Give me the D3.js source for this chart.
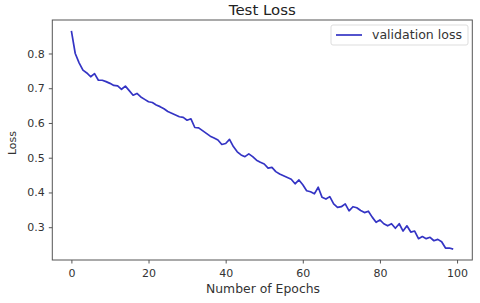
<!DOCTYPE html>
<html><head><meta charset="utf-8">
<script src="https://cdn.jsdelivr.net/npm/d3@7"></script>
<style>body{margin:0;background:#fff}svg{display:block;font-family:"DejaVu Sans",sans-serif}</style>
</head><body><svg id="c" width="480" height="303"></svg>
<script>
const epochs = d3.range(0, 100);
const lossValues = [
0.865,0.800,0.773,0.752,0.744,0.733,0.742,0.723,0.723,0.719,
0.714,0.708,0.707,0.697,0.706,0.693,0.680,0.685,0.675,0.668,
0.661,0.659,0.652,0.647,0.641,0.633,0.628,0.623,0.618,0.616,
0.608,0.612,0.587,0.586,0.578,0.570,0.562,0.557,0.551,0.538,
0.541,0.553,0.532,0.517,0.508,0.503,0.511,0.503,0.493,0.487,
0.482,0.470,0.472,0.460,0.453,0.448,0.443,0.438,0.425,0.436,
0.422,0.405,0.402,0.396,0.415,0.386,0.381,0.388,0.367,0.357,
0.359,0.367,0.347,0.359,0.356,0.348,0.342,0.346,0.329,0.314,
0.321,0.310,0.304,0.310,0.297,0.310,0.289,0.304,0.286,0.289,
0.267,0.273,0.267,0.271,0.261,0.265,0.258,0.240,0.240,0.237];
const xTicks = [0,20,40,60,80,100];
const yTicks = [0.3,0.4,0.5,0.6,0.7,0.8];
const title = "Test Loss", xLabel = "Number of Epochs", yLabel = "Loss", seriesName = "validation loss";

const L=52.3,R=472.3,T=20,B=260;
const svg=d3.select("#c");
const x=d3.scaleLinear().domain([-4.95,103.95]).range([L,R]);
const ymin=d3.min(lossValues), ymax=d3.max(lossValues), pad=(ymax-ymin)*0.05;
const y=d3.scaleLinear().domain([ymin-pad, ymax+pad]).range([B,T]);
const txt="#333", col="#3434c4";

const line=d3.line().x((d,i)=>x(epochs[i])).y(d=>y(d));
svg.append("path").datum(lossValues).attr("d",line).attr("fill","none")
  .attr("stroke",col).attr("stroke-width",1.7).attr("stroke-linejoin","round");

svg.append("rect").attr("x",L).attr("y",T).attr("width",R-L).attr("height",B-T)
  .attr("fill","none").attr("stroke","#555").attr("stroke-width",1);

const xa=svg.append("g").attr("transform",`translate(0,${B})`)
  .call(d3.axisBottom(x).tickValues(xTicks).tickSize(3.5).tickPadding(4).tickFormat(d3.format("d")));
const ya=svg.append("g").attr("transform",`translate(${L},0)`)
  .call(d3.axisLeft(y).tickValues(yTicks).tickSize(3.5).tickPadding(4).tickFormat(d3.format(".1f")));
[xa,ya].forEach(g=>{g.select(".domain").remove();
  g.selectAll("line").attr("stroke","#555");
  g.selectAll("text").attr("fill",txt).attr("font-size",11).attr("font-family","DejaVu Sans");});
xa.selectAll("text").attr("dy","0.9em");

svg.append("text").attr("x",(L+R)/2).attr("y",15).attr("text-anchor","middle")
  .attr("font-size",13.5).attr("fill","#222").attr("textLength",67).attr("lengthAdjust","spacingAndGlyphs").text(title);
svg.append("text").attr("x",263).attr("y",293).attr("text-anchor","middle")
  .attr("font-size",11.5).attr("fill",txt).attr("textLength",114).attr("lengthAdjust","spacingAndGlyphs").text(xLabel);
svg.append("text").attr("transform","translate(16,143) rotate(-90)").attr("text-anchor","middle")
  .attr("font-size",11).attr("fill",txt).text(yLabel);

const lg=svg.append("g");
lg.append("rect").attr("x",331).attr("y",25).attr("width",137).attr("height",20).attr("rx",2)
  .attr("fill","#fff").attr("stroke","#ddd").attr("stroke-width",1);
lg.append("line").attr("x1",336).attr("x2",362).attr("y1",35).attr("y2",35).attr("stroke",col).attr("stroke-width",1.7);
lg.append("text").attr("x",372).attr("y",39).attr("font-size",11.5).attr("fill",txt)
  .attr("textLength",90).attr("lengthAdjust","spacingAndGlyphs").text(seriesName);
</script></body></html>
